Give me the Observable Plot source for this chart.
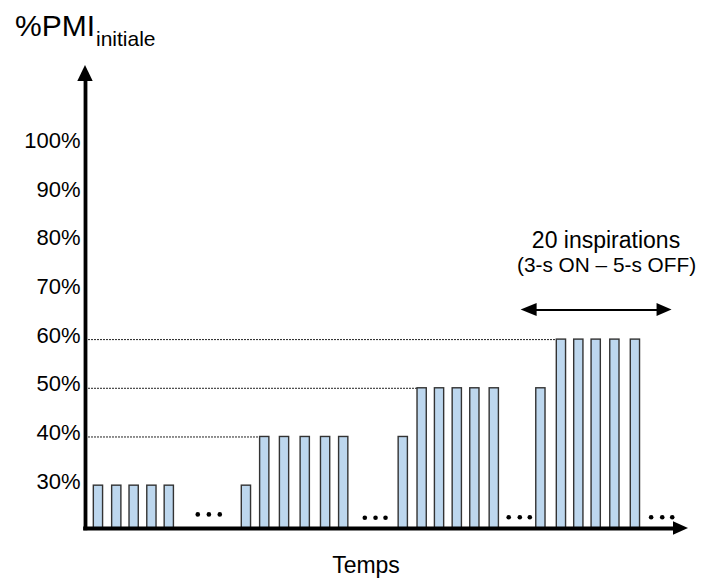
<!DOCTYPE html>
<html><head><meta charset="utf-8">
<script src="https://cdn.jsdelivr.net/npm/d3@7"></script>
<script src="https://cdn.jsdelivr.net/npm/@observablehq/plot@0.6"></script>
<style>
html,body{margin:0;padding:0;background:#fff;}
body{width:715px;height:584px;position:relative;overflow:hidden;font-family:"Liberation Sans",Arial,sans-serif;color:#000;}
#ylab{position:absolute;left:15px;top:10.5px;font-size:30px;line-height:30px;white-space:nowrap;}
#ylab sub{font-size:21px;vertical-align:-10px;line-height:0;margin-left:1px;}
#xlab{position:absolute;left:266px;width:200px;top:553.5px;font-size:23px;line-height:23px;text-align:center;}
#chart{position:absolute;left:0;top:50px;}
</style></head><body>
<div id="ylab">%PMI<sub>initiale</sub></div>
<div id="chart"></div>
<div id="xlab">Temps</div>
<script>
// Time position of each inspiration bar (arbitrary time units)
const time = [0.70, 1.69, 2.63, 3.59, 4.53,
              8.70, 9.69, 10.76, 11.88, 12.98, 13.96,
              17.18, 18.20, 19.14, 20.10, 21.05, 22.10,
              24.62, 25.73, 26.67, 27.61, 28.62, 29.73];
// Load (% of initial PMI) of each bar
const pmi = [30, 30, 30, 30, 30,
             30, 40, 40, 40, 40, 40,
             40, 50, 50, 50, 50, 50,
             50, 60, 60, 60, 60, 60];
const yTicks = [30, 40, 50, 60, 70, 80, 90, 100];
const refLevels = [40, 50, 60];
// "..." ellipsis dots between blocks
const ellipsisTime = [6.07, 6.67, 7.26, 15.10, 15.68, 16.22, 22.88, 23.48, 24.02, 30.58, 31.18, 31.72];
const ellipsisLevel = [24.1, 24.1, 24.1, 23.4, 23.4, 23.4, 23.5, 23.5, 23.5, 23.5, 23.5, 23.5];
const annotationText = ["20 inspirations", "(3-s ON – 5-s OFF)"];
const annotationSpan = [23.55, 31.71];
const annotationLevel = 66.1;

const xMax = 32.6, yMin = 21.2, yMax = 116.3;
const halfW = 0.25;

const bars = time.map((t, i) => ({t, v: pmi[i]}));
const dots = ellipsisTime.map((t, i) => ({t, v: ellipsisLevel[i]}));
const firstLeft = lvl => bars.find(b => b.v === lvl).t - halfW;

function arrowheads(index, scales) {
  const {x, y} = scales;
  const g = d3.create("svg:g").attr("fill", "#000");
  const tri = pts => g.append("path").attr("d", "M" + pts.map(p => p.join(",")).join("L") + "Z");
  const x0 = x(0), yT = y(yMax), yB = y(yMin), xE = x(xMax);
  tri([[x0, yT], [x0 - 7.7, yT + 16], [x0 + 7.7, yT + 16]]);
  tri([[xE, yB], [xE - 15, yB - 6.8], [xE - 15, yB + 6.8]]);
  const ya = y(annotationLevel), a1 = x(annotationSpan[0]), a2 = x(annotationSpan[1]);
  tri([[a1, ya], [a1 + 16, ya - 6.5], [a1 + 16, ya + 6.5]]);
  tri([[a2, ya], [a2 - 15, ya - 6.5], [a2 - 15, ya + 6.5]]);
  return g.node();
}

const chart = Plot.plot({
  width: 715,
  height: 500,
  marginLeft: 85,
  marginRight: 27,
  marginTop: 15,
  marginBottom: 22,
  style: {fontFamily: "'Liberation Sans', Arial, sans-serif", background: "#fff", color: "#000", overflow: "visible"},
  x: {domain: [0, xMax], axis: null},
  y: {domain: [yMin, yMax], axis: null},
  marks: [
    Plot.ruleY(refLevels, {y: d => d, x1: 0, x2: d => firstLeft(d), stroke: "#222", strokeWidth: 1, strokeDasharray: "2,1"}),
    Plot.rectY(bars, {x1: d => d.t - halfW, x2: d => d.t + halfW, y1: yMin, y2: "v", fill: "#bdd7ee", stroke: "#333", strokeWidth: 1.4}),
    Plot.dot(dots, {x: "t", y: "v", r: 2.3, fill: "#000", stroke: null}),
    Plot.ruleX([0], {y1: yMin - 0.45, y2: yMax - 2, stroke: "#000", strokeWidth: 3.8}),
    Plot.ruleY([yMin], {x1: -0.1, x2: xMax - 0.6, stroke: "#000", strokeWidth: 3.8}),
    Plot.ruleY([annotationLevel], {x1: annotationSpan[0] + 0.5, x2: annotationSpan[1] - 0.5, stroke: "#000", strokeWidth: 2}),
    Plot.text(yTicks, {x: 0, y: d => d, text: d => d + "%", textAnchor: "end", dx: -5, dy: -4, fontSize: 22, fill: "#000"}),
    Plot.text([annotationText[0]], {x: 28.14, y: 80.35, text: d => d, fontSize: 23, fill: "#000"}),
    Plot.text([annotationText[1]], {x: 28.17, y: 75.22, text: d => d, fontSize: 20.8, fill: "#000"}),
    arrowheads
  ]
});
document.getElementById("chart").appendChild(chart);
</script>
</body></html>
